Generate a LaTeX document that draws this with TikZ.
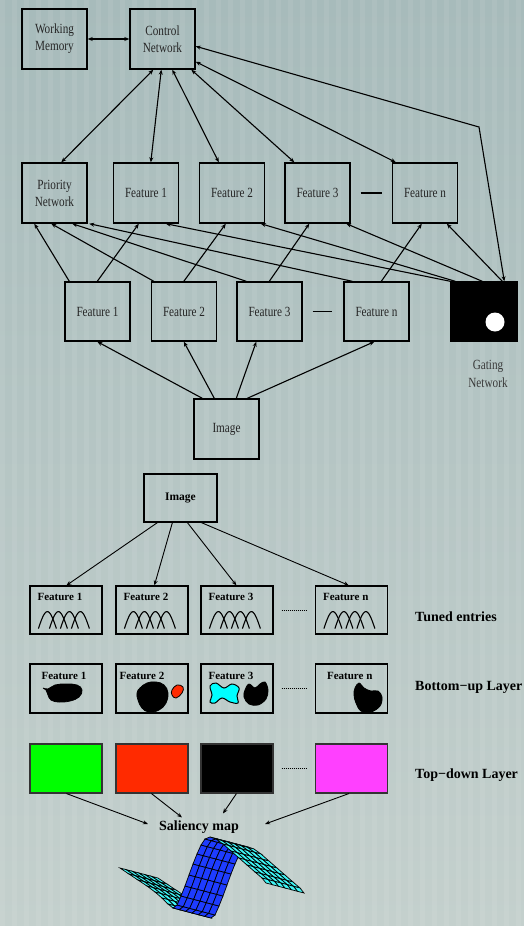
\documentclass[tikz,border=0pt]{standalone}
\usepackage{fontspec}
\setmainfont{Liberation Serif}
\newfontfamily\condserif[FakeStretch=0.8]{Liberation Serif}
\usetikzlibrary{arrows.meta,calc}

\definecolor{bgtop}{HTML}{A7BBBB}
\definecolor{bgbot}{HTML}{C4D0CD}
\definecolor{inkgray}{HTML}{262626}
\definecolor{labelgray}{HTML}{3A3A3A}
\definecolor{tdgreen}{HTML}{00FF00}
\definecolor{tdred}{HTML}{FF2A00}
\definecolor{tdmagenta}{HTML}{FF40FF}
\definecolor{blobcyan}{HTML}{00FFFF}
\definecolor{surfblue}{HTML}{1E3CFF}
\definecolor{surfcyan}{HTML}{3FF5F5}

\begin{document}
\begin{tikzpicture}[x=1pt,y=-1pt,
  netbox/.style={draw=black, line width=1.4pt, inner sep=0pt, align=center,
    text=inkgray, minimum width=65pt, minimum height=60pt,
    font=\condserif\fontsize{14}{17}\selectfont},
  featbox/.style={draw=black, line width=1.2pt, inner sep=0pt,
    minimum width=72pt, minimum height=48pt},
  colbox/.style={draw=black!80, line width=1.1pt, inner sep=0pt,
    minimum width=72pt, minimum height=49pt},
  boldlab/.style={inner sep=0pt, anchor=west, text=black,
    font=\bfseries\fontsize{11}{13}\selectfont},
  sidelab/.style={inner sep=0pt, anchor=west, text=black,
    font=\bfseries\fontsize{14}{16}\selectfont},
  uarr/.style={-{Stealth[length=5pt,width=4pt]}, line width=1.1pt},
  darr/.style={{Stealth[length=5pt,width=4pt]}-{Stealth[length=5pt,width=4pt]}, line width=1.1pt},
  thinarr/.style={-{Stealth[length=5pt,width=4pt]}, line width=0.9pt},
  tunecurve/.style={line width=1.1pt},
  blobline/.style={draw=black, line width=0.8pt},
]
\useasboundingbox (0,0) rectangle (524,926);

% ---------- background ----------
\shade[top color=bgtop, bottom color=bgbot] (0,0) rectangle (524,926);
\foreach \i in {0,...,43}
  \fill[white, opacity=0.07] (\i*12,0) rectangle (\i*12+5,926);

% ================= attention network =================
\node[netbox] (wm)  at (54.5,39)  {Working\\Memory};
\node[netbox] (cn)  at (162.5,39) {Control\\Network};

\node[netbox] (pn)  at (54.5,193)  {Priority\\Network};
\node[netbox] (tf1) at (146,193)   {Feature 1};
\node[netbox] (tf2) at (232,193)   {Feature 2};
\node[netbox] (tf3) at (317.5,193) {Feature 3};
\node[netbox] (tfn) at (425,193)   {Feature n};

\node[netbox, minimum height=59pt] (lf1) at (97.5,311.5)  {Feature 1};
\node[netbox, minimum height=59pt] (lf2) at (184,311.5)   {Feature 2};
\node[netbox, minimum height=59pt] (lf3) at (269.5,311.5) {Feature 3};
\node[netbox, minimum height=59pt] (lfn) at (376.5,311.5) {Feature n};

\node[netbox, fill=black, minimum width=66pt, minimum height=59pt] (gate) at (484,311.5) {};
\fill[white] (495,322) circle (9.5);
\node[inner sep=0pt, align=center, text=labelgray,
      font=\condserif\fontsize{14}{18}\selectfont] (gatelab) at (488,374) {Gating\\Network};

\node[netbox] (img) at (226.5,429) {Image};

% separators between the last two features
\draw[line width=1.4pt, shorten <=10pt, shorten >=10pt] (tf3) -- (tfn);
\draw[line width=1.1pt, shorten <=10pt, shorten >=11pt] (lf3) -- (lfn);

% control links
\draw[darr] (wm) -- (cn);
\draw[darr] ([xshift=24pt]cn.south west) -- ([xshift=40pt]pn.north west);
\draw[darr] ([xshift=32pt]cn.south west) -- ([xshift=38pt]tf1.north west);
\draw[darr] ([xshift=43pt]cn.south west) -- ([xshift=20pt]tf2.north west);
\draw[darr] ([xshift=62pt]cn.south west) -- ([xshift=10pt]tf3.north west);
\draw[darr] ([yshift=8pt]cn.south east)  -- ([xshift=4pt]tfn.north west);
\coordinate (bend) at (479,127);
\draw[darr] ([yshift=-38pt]cn.north east) -- (bend) -- ([xshift=54pt]gate.north west);

% bottom-up links into priority network and top feature maps
\draw[uarr] ([xshift=5pt]lf1.north west)  -- ([xshift=13pt]pn.south west);
\draw[uarr] ([xshift=33pt]lf1.north west) -- ([xshift=26pt]tf1.south west);
\draw[uarr] ([xshift=3pt]lf2.north west)  -- ([xshift=30pt]pn.south west);
\draw[uarr] ([xshift=33pt]lf2.north west) -- ([xshift=27pt]tf2.south west);
\draw[uarr] ([xshift=10pt]lf3.north west) -- ([xshift=51pt]pn.south west);
\draw[uarr] ([xshift=33pt]lf3.north west) -- ([xshift=25pt]tf3.south west);
\draw[uarr] ([xshift=9pt]lfn.north west)  -- ([xshift=68pt]pn.south west);
\draw[uarr] ([xshift=38pt]lfn.north west) -- ([xshift=30pt]tfn.south west);

% gating links
\draw[uarr] ([xshift=0pt]gate.north west)  -- ([xshift=53pt]tf1.south west);
\draw[uarr] ([xshift=5pt]gate.north west)  -- ([xshift=62pt]tf2.south west);
\draw[uarr] ([xshift=32pt]gate.north west) -- ([xshift=62pt]tf3.south west);
\draw[uarr] ([xshift=52pt]gate.north west) -- ([xshift=55pt]tfn.south west);

% image to first-stage features
\draw[uarr] ([xshift=9pt]img.north west)  -- ([xshift=33pt]lf1.south west);
\draw[uarr] ([xshift=21pt]img.north west) -- ([xshift=33pt]lf2.south west);
\draw[uarr] ([xshift=43pt]img.north west) -- ([xshift=20pt]lf3.south west);
\draw[uarr] ([xshift=54pt]img.north west) -- ([xshift=31pt]lfn.south west);

% ================= saliency model =================
\node[draw=black, line width=1.2pt, minimum width=73pt, minimum height=48pt,
      inner sep=0pt, font=\bfseries\fontsize{11.5}{13}\selectfont] (bimg) at (180.5,498) {Image};

% tuned entries
\node[featbox] (bt1) at (66,610)    {};
\node[featbox] (bt2) at (152,610)   {};
\node[featbox] (bt3) at (237,610)   {};
\node[featbox] (btn) at (351.5,610) {};
\foreach \b/\t in {bt1/Feature 1, bt2/Feature 2, bt3/Feature 3, btn/Feature n}{
  \node[boldlab] (\b lab) at ([xshift=8pt,yshift=-12pt]\b.north west) {\t};
  \begin{scope}[shift={(\b.south west)}]
    \foreach \c in {18,29,40,51}
      \draw[tunecurve] plot[domain=-1:1, samples=21] ({\c+9*\x},{-6-17*cos(90*\x)});
  \end{scope}
}
\draw[line width=0.8pt, dash pattern=on 1pt off 1pt, shorten <=8pt, shorten >=9pt] (bt3) -- (btn);
\node[sidelab] (tunelab) at (415,617) {Tuned entries};

\draw[thinarr] ([xshift=14pt]bimg.south west) -- ([xshift=37pt]bt1.north west);
\draw[thinarr] ([xshift=29pt]bimg.south west) -- ([xshift=39pt]bt2.north west);
\draw[thinarr] ([xshift=44pt]bimg.south west) -- ([xshift=36pt]bt3.north west);
\draw[thinarr] ([xshift=58pt]bimg.south west) -- ([xshift=34pt]btn.north west);

% bottom-up layer
\node[featbox, minimum height=49pt] (bu1) at (66,688.5)    {};
\node[featbox, minimum height=49pt] (bu2) at (152,688.5)   {};
\node[featbox, minimum height=49pt] (bu3) at (237,688.5)   {};
\node[featbox, minimum height=49pt] (bun) at (351.5,688.5) {};
\node[boldlab] (bu1lab) at ([xshift=12pt,yshift=-13pt]bu1.north west) {Feature 1};
\node[boldlab] (bu2lab) at ([xshift=4pt,yshift=-13pt]bu2.north west)  {Feature 2};
\node[boldlab] (bu3lab) at ([xshift=8pt,yshift=-13pt]bu3.north west)  {Feature 3};
\node[boldlab] (bunlab) at ([xshift=12pt,yshift=-13pt]bun.north west) {Feature n};
\draw[line width=0.8pt, dash pattern=on 1pt off 1pt, shorten <=8pt, shorten >=9pt] (bu3) -- (bun);
\node[sidelab] (bulab) at (415,687) {Bottom−up Layer};

% activity blobs
\filldraw[fill=black, blobline] plot[smooth cycle, tension=0.7] coordinates
  {(43,688) (48,689) (55,685) (66,684) (77,685) (82,690) (79,697) (70,701) (59,702) (51,700) (48,695) (46,690)};
\filldraw[fill=black, blobline] plot[smooth cycle, tension=0.7] coordinates
  {(140,688) (147,683) (156,682) (164,685) (168,693) (166,703) (159,710) (149,712) (142,708) (138,700) (137,693)};
\filldraw[fill=tdred, blobline] plot[smooth cycle, tension=0.7] coordinates
  {(172,690) (177,685) (183,687) (182,693) (176,698) (172,695)};
\filldraw[fill=blobcyan, draw=black, line width=1pt] plot[smooth cycle, tension=0.6] coordinates
  {(210,686) (216,683) (224,688) (232,684) (239,688) (237,696) (238,703) (230,702) (222,698) (215,703) (210,702) (212,695)};
\filldraw[fill=black, blobline] plot[smooth cycle, tension=0.6] coordinates
  {(245,690) (249,684) (255,688) (260,684) (265,682) (268,690) (266,699) (258,705) (249,704) (244,697)};
\filldraw[fill=black, blobline] plot[smooth cycle, tension=0.6] coordinates
  {(355,688) (359,683) (364,688) (371,691) (378,691) (382,697) (380,706) (371,712) (361,711) (356,703) (354,695)};

% top-down layer
\node[colbox, fill=tdgreen]   (td1) at (66,768.5)    {};
\node[colbox, fill=tdred]     (td2) at (152,768.5)   {};
\node[colbox, fill=black]     (td3) at (237,768.5)   {};
\node[colbox, fill=tdmagenta] (tdn) at (351.5,768.5) {};
\draw[line width=0.8pt, dash pattern=on 1pt off 1pt, shorten <=8pt, shorten >=9pt] (td3) -- (tdn);
\node[sidelab] (tdlab) at (415,775) {Top−down Layer};

% saliency map
\node[inner sep=2pt, font=\bfseries\fontsize{14}{16}\selectfont] (sal) at (199,827) {Saliency map};
\draw[thinarr] ([xshift=37pt]td1.south west) -- ([xshift=-9pt,yshift=3pt]sal.west);
\draw[thinarr] ([xshift=36pt]td2.south west) -- ([xshift=-17pt,yshift=1pt]sal.north);
\draw[thinarr] ([xshift=36pt]td3.south west) -- ([xshift=24pt,yshift=5pt]sal.north);
\draw[thinarr] ([xshift=34pt]tdn.south west) -- ([xshift=24pt,yshift=3pt]sal.east);

% surface plot of the saliency map: a profile swept along (38,10)
\foreach \ax/\ay/\bx/\by in {
  120/868/129/874, 129/874/138/880, 138/880/147/886, 147/886/155/892,
  155/892/162/898, 162/898/168/904, 168/904/173/908, 173/908/177/905,
  177/905/181/896, 181/896/185/886, 185/886/189/875, 189/875/193/864,
  193/864/197/854, 197/854/201/845, 201/845/205/839, 205/839/210/837,
  210/837/216/839, 216/839/223/844, 223/844/231/851, 231/851/239/858,
  239/858/247/865, 247/865/255/872, 255/872/262/878, 262/878/266/883}{
  \pgfmathsetmacro\facing{(\bx-\ax)*10-(\by-\ay)*38}
  \ifdim\facing pt>0pt \def\facecol{surfblue}\else\def\facecol{surfcyan}\fi
  \foreach \k in {0,...,5}{
    \filldraw[fill=\facecol, draw=black, line width=0.7pt]
      ({\ax+\k*38/6},{\ay+\k*10/6}) -- ({\bx+\k*38/6},{\by+\k*10/6})
      -- ({\bx+(\k+1)*38/6},{\by+(\k+1)*10/6}) -- ({\ax+(\k+1)*38/6},{\ay+(\k+1)*10/6}) -- cycle;
  }
}
\end{tikzpicture}
\end{document}
